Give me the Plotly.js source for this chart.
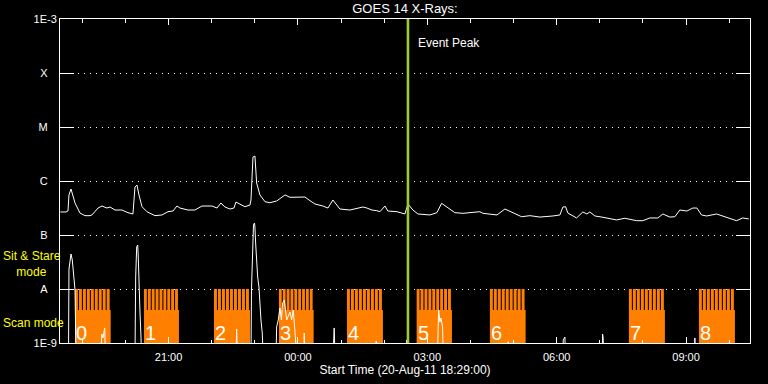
<!DOCTYPE html>
<html>
<head>
<meta charset="utf-8">
<script src="https://cdn.plot.ly/plotly-3.0.1.min.js"></script>
<style>
html,body{margin:0;padding:0;background:#000;}
#chart{width:768px;height:384px;}
</style>
</head>
<body>
<div id="chart"></div>
<script>
// Start of plot: 20-Aug-2011 18:29:00 UT; all times in minutes after start
const startTimeLabel = 'Start Time (20-Aug-11 18:29:00)';
const chartTitle = 'GOES 14 X-Rays:';

// GOES long channel (1-8 A), flux W/m^2
const longMinutes = [0.5,8.3,11.1,12.5,15.3,16.7,20.9,27.8,34.8,41.7,
  44.5,52.9,58.4,65.4,69.6,76.5,86.2,94.6,101.5,104.3,
  107.1,109.9,114.1,121.0,132.1,141.9,150.2,157.2,162.7,166.9,
  178.0,187.8,197.5,211.4,218.4,223.9,229.5,236.5,242.0,244.8,
  250.4,257.3,264.3,265.7,268.5,271.2,273.6,278.2,285.2,292.1,
  301.4,313.0,320.0,340.8,347.8,354.7,365.8,372.8,379.7,385.3,
  389.4,403.4,421.5,427.0,434.0,440.9,445.1,452.1,456.2,468.8,
  479.9,484.1,491.0,498.0,514.7,524.4,530.9,538.3,549.4,560.6,
  584.2,588.4,607.9,619.0,630.1,642.2,653.8,667.7,685.8,695.5,
  699.7,703.4,706.6,718.7,727.5,733.1,737.2,744.2,755.3,774.4,
  785.9,802.2,810.9,820.7,831.8,838.8,848.5,855.5,862.4,872.2,
  880.5,886.1,892.6,899.6,913.5,927.4,936.1,941.3,950.0,958.4];
const longFlux = [2.67e-7,2.67e-7,2.78e-7,5.51e-7,7.11e-7,6.25e-7,3.91e-7,2.55e-7,2.28e-7,2.28e-7,
  2.35e-7,3.16e-7,3.44e-7,3.16e-7,3.30e-7,2.90e-7,2.90e-7,2.59e-7,2.45e-7,7.74e-7,
  8.43e-7,5.51e-7,3.34e-7,2.70e-7,2.28e-7,2.35e-7,2.70e-7,2.78e-7,3.44e-7,3.16e-7,
  2.90e-7,2.90e-7,3.44e-7,3.44e-7,3.16e-7,3.91e-7,3.30e-7,3.03e-7,3.16e-7,4.08e-7,
  3.75e-7,3.34e-7,3.59e-7,4.45e-7,2.78e-6,2.90e-6,9.18e-7,5.51e-7,4.14e-7,3.96e-7,
  4.26e-7,5.51e-7,4.99e-7,5.05e-7,4.32e-7,3.75e-7,3.44e-7,3.16e-7,4.45e-7,3.59e-7,
  3.03e-7,2.90e-7,3.30e-7,3.16e-7,2.90e-7,2.82e-7,2.70e-7,3.44e-7,2.78e-7,2.70e-7,
  2.45e-7,3.75e-7,2.90e-7,2.45e-7,2.35e-7,2.59e-7,3.86e-7,3.30e-7,2.59e-7,2.52e-7,
  2.70e-7,2.52e-7,2.35e-7,3.03e-7,2.55e-7,2.18e-7,2.28e-7,2.15e-7,2.25e-7,2.35e-7,
  3.30e-7,3.34e-7,2.55e-7,2.07e-7,2.67e-7,2.45e-7,2.67e-7,2.25e-7,2.13e-7,1.90e-7,
  2.04e-7,1.84e-7,1.84e-7,2.07e-7,2.07e-7,2.45e-7,2.15e-7,2.18e-7,2.90e-7,2.78e-7,
  3.16e-7,3.16e-7,2.35e-7,2.25e-7,2.45e-7,2.13e-7,1.98e-7,1.84e-7,2.07e-7,1.98e-7];

// GOES short channel (0.5-4 A), flux W/m^2 (5e-10 = below plotted floor)
const shortMinutes = [0.5,11.8,12.5,13.9,15.3,17.1,18.5,19.9,20.9,22.3,
  57.0,58.0,59.8,62.2,63.3,
  104.3,105.3,106.7,108.1,108.9,109.9,111.3,112.7,113.4,
  244.8,245.8,246.9,
  265.7,266.4,267.8,269.2,270.6,271.2,272.2,273.6,275.0,276.8,278.2,279.6,281.4,282.8,
  300.5,301.4,303.7,306.0,308.1,309.8,312.0,313.7,315.4,317.6,320.0,322.3,324.5,326.2,327.9,329.7,
  339.4,339.8,340.8,
  379.7,380.4,381.5,382.8,
  439.6,440.0,440.7,
  482.0,482.3,483.0,
  525.1,525.8,526.8,528.6,530.0,532.3,533.4,
  623.2,623.6,624.3,
  699.7,700.1,702.5,703.2,
  754.3,754.9,755.7,756.4,
  883.0,883.3,884.0,
  960.0];
const shortFlux = [5e-10,5e-10,2.34e-8,3.44e-8,4.45e-8,3.44e-8,1.82e-8,1.29e-8,9.58e-9,5e-10,
  5e-10,1.47e-9,1.24e-9,1.90e-9,5e-10,
  5e-10,1.67e-8,6.0e-8,6.53e-8,3.91e-8,9.58e-9,3.59e-9,1.29e-9,5e-10,
  5e-10,1.82e-9,5e-10,
  5e-10,9.58e-9,8.08e-8,1.53e-7,1.67e-7,1.41e-7,7.11e-8,2.55e-8,1.67e-8,1.09e-8,4.64e-9,2.67e-9,1.53e-9,5e-10,
  5e-10,1.98e-9,2.67e-9,4.45e-9,2.67e-9,5.51e-9,6.25e-9,3.75e-9,2.67e-9,3.16e-9,3.75e-9,2.67e-9,4.08e-9,2.15e-9,1.14e-9,5e-10,
  5e-10,1.53e-9,5e-10,
  5e-10,1.53e-9,1.90e-9,5e-10,
  5e-10,1.09e-9,5e-10,
  5e-10,1.14e-9,5e-10,
  5e-10,2.90e-9,4.08e-9,2.45e-9,2.90e-9,1.98e-9,5e-10,
  5e-10,1.06e-9,5e-10,
  5e-10,1.14e-9,1.29e-9,5e-10,
  5e-10,1.47e-9,1.24e-9,5e-10,
  5e-10,1.24e-9,5e-10,
  5e-10];

// Scan-mode intervals (minutes after start)
const scanLabels = ['0','1','2','3','4','5','6','7','8'];
const scanStartMin = [20.9,116.8,214.2,304.6,399.2,496.2,598.1,791.5,888.9];
const scanEndMin   = [70.5,165.5,264.3,352.9,449.3,545.3,647.8,841.6,939.0];
const scanRasterSteps = 9;

const eventPeakMin = 484.1;
const eventLabel = 'Event Peak';
const modeLabelTop = 'Sit &amp; Stare';
const modeLabelTop2 = 'mode';
const modeLabelBottom = 'Scan mode';

const yTickVals = [1e-9,1e-8,1e-7,1e-6,1e-5,1e-4,1e-3];
const yTickText = ['1E-9','A','B','C','M','X','1E-3'];
const plotRangeMin = [0, 960];

// ---------- build ----------
const t0 = Date.UTC(2011,7,20,18,29,0);
function toDate(m){
  return new Date(t0 + m*60000).toISOString().replace('T',' ').replace('Z','');
}
const NB = '\u00a0';
const yTickPadded = yTickText.map(t => t.length === 1 ? t + NB + NB + NB : t);

const scanX = [], scanY = [];
function pushRect(a,b,lo,hi){
  scanX.push(toDate(a),toDate(b),toDate(b),toDate(a),toDate(a),null);
  scanY.push(lo,lo,hi,hi,lo,null);
}
scanStartMin.forEach((s,i)=>{
  const e = scanEndMin[i];
  pushRect(s,e,1e-10,4.1e-9);
  const step = (e-s)/scanRasterSteps;
  for(let k=0;k<scanRasterSteps;k++){
    const a = s + k*step;
    pushRect(a, a + step*0.74, 3.9e-9, 1e-8);
  }
});

const traces = [
  {x: scanX, y: scanY, type:'scatter', mode:'lines', fill:'toself',
   fillcolor:'#ff8000', line:{width:0, color:'#ff8000'}, hoverinfo:'skip', showlegend:false},
  {x: shortMinutes.map(toDate), y: shortFlux, type:'scatter', mode:'lines',
   line:{color:'#ffffff', width:1}, showlegend:false},
  {x: longMinutes.map(toDate), y: longFlux, type:'scatter', mode:'lines',
   line:{color:'#ffffff', width:1}, showlegend:false}
];

const annotations = scanLabels.map((lab,i)=>({
  x: toDate(scanStartMin[i]), y: -8.82, xref:'x', yref:'y',
  text: lab, showarrow:false, xanchor:'left', yanchor:'middle', xshift:-1,
  font:{family:'Liberation Sans Narrow, Liberation Sans, sans-serif', size:20, color:'#ffffff'}
}));
annotations.push(
  {x:-0.0845, y:-7.53, xref:'paper', yref:'y',
   text: modeLabelTop + '<br>' + NB+NB+NB+NB + modeLabelTop2, showarrow:false, align:'left',
   xanchor:'left', yanchor:'middle', borderpad:0, font:{size:12, color:'#ffff00'}},
  {x:-0.0845, y:-8.63, xref:'paper', yref:'y', text:modeLabelBottom, showarrow:false,
   xanchor:'left', yanchor:'middle', borderpad:0, font:{size:12, color:'#ffff00'}},
  {x: toDate(eventPeakMin), y:0.926, xref:'x', yref:'paper', text:eventLabel, showarrow:false,
   xanchor:'left', yanchor:'middle', xshift:8, font:{size:12, color:'#ffffff'}}
);

const layout = {
  width:768, height:384,
  paper_bgcolor:'#000000', plot_bgcolor:'#000000',
  font:{family:'Liberation Sans, Arial, sans-serif', size:11, color:'#ffffff'},
  margin:{l:60, r:18, t:19, b:41, pad:0},
  title:{text:chartTitle, x:0.5, xref:'paper', y:0.977, yref:'container',
         xanchor:'center', yanchor:'middle', font:{size:13, color:'#ffffff'}},
  showlegend:false,
  xaxis:{
    type:'date', range:[toDate(plotRangeMin[0]), toDate(plotRangeMin[1])],
    tick0: toDate(151), dtick: 3*3600000, tickformat:'%H:%M',
    ticks:'inside', ticklen:6, tickcolor:'#ffffff', tickwidth:1,
    minor:{dtick:3600000, ticks:'inside', ticklen:3.5, tickcolor:'#ffffff', showgrid:false},
    showline:true, linecolor:'#ffffff', linewidth:1, mirror:'ticks',
    showgrid:false, zeroline:false, automargin:false, ticklabelstandoff:4,
    tickfont:{size:11, color:'#ffffff'},
    title:{text:startTimeLabel, font:{size:12, color:'#ffffff'}, standoff:1}
  },
  yaxis:{
    type:'log', range:[-9,-3], tickvals:yTickVals, ticktext:yTickPadded,
    ticks:'inside', ticklen:14, tickcolor:'#ffffff', tickwidth:1,
    showline:true, linecolor:'#ffffff', linewidth:1, mirror:'ticks',
    showgrid:true, gridcolor:'#ffffff', gridwidth:1, griddash:'1px,5px',
    zeroline:false, automargin:false, tickfont:{size:11, color:'#ffffff'}
  },
  shapes:[{type:'line', xref:'x', yref:'paper', x0:toDate(eventPeakMin), x1:toDate(eventPeakMin),
           y0:0, y1:1, line:{color:'#9acd32', width:2.6}}],
  annotations: annotations
};

Plotly.newPlot('chart', traces, layout, {displayModeBar:false, staticPlot:true});
</script>
</body>
</html>
